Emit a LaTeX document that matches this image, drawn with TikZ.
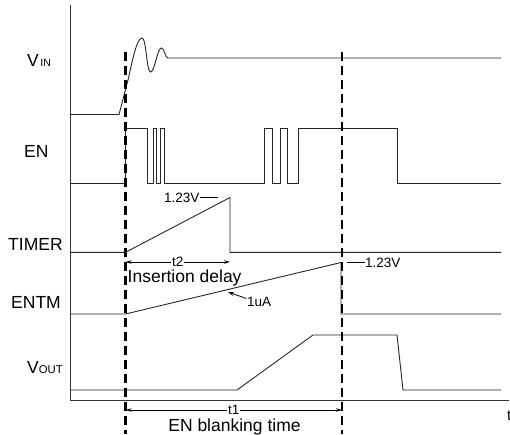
\documentclass[tikz,border=0pt]{standalone}
\usepackage{fontspec}
\setmainfont{Liberation Sans}
\usetikzlibrary{arrows.meta}
\begin{document}
\begin{tikzpicture}[x=1pt,y=-1pt,
  wave/.style={line width=0.9pt, black!85, line join=miter},
  axisline/.style={line width=1pt, black!80},
  marker/.style={line width=2.2pt, black, dash pattern=on 9pt off 5pt},
  biglbl/.style={font=\fontsize{17.5}{20}\selectfont, inner sep=0pt, anchor=base west},
  midlbl/.style={font=\fontsize{17.5}{20}\selectfont, inner sep=0pt},
  smalllbl/.style={font=\fontsize{13.5}{15}\selectfont, inner sep=0pt},
  dimline/.style={line width=0.8pt, {Stealth[length=6pt,width=3.5pt]}-{Stealth[length=6pt,width=3.5pt]}},
]
\useasboundingbox (0,0) rectangle (510,434);

% axes
\coordinate (otop) at (70.3,5);
\coordinate (orig) at (70.3,400.3);
\coordinate (tend) at (509,400.3);
\draw[axisline] (otop) -- (orig) -- (tend);
\node[font=\fontsize{15}{16}\selectfont, inner sep=0pt, anchor=base west] (tlab) at (507,420) {t};

% signal labels
\node[biglbl] (vin) at (27,66) {V\hspace{1.5pt}\fontsize{10.5}{12}\selectfont IN};
\node[biglbl] (en) at (24,157) {EN};
\node[biglbl] (timer) at (8,250) {TIMER};
\node[biglbl] (entm) at (11,308) {ENTM};
\node[biglbl] (vout) at (27,373) {V\fontsize{11.3}{12}\selectfont OUT};

% VIN
\draw[wave] (70.3,114.5) -- (119,114.5) -- (128,80)
  .. controls (133,58) and (137,38) .. (142,38)
  .. controls (146.5,38) and (146.5,72) .. (150.5,72)
  .. controls (155,72) and (157,48) .. (161.5,48)
  .. controls (164.5,48) and (165,58) .. (168,58) -- (501,58);

% EN
\draw[wave] (70.3,183.3) -- (125.5,183.3) -- (125.5,128.7) -- (147,128.7) -- (147,183.3)
  -- (153.5,183.3) -- (153.5,128.7) -- (156.5,128.7) -- (156.5,183.3)
  -- (160.5,183.3) -- (160.5,128.7) -- (164,128.7) -- (164,183.3)
  -- (264.5,183.3) -- (264.5,128.7) -- (272,128.7) -- (272,183.3)
  -- (280,183.3) -- (280,128.7) -- (287,128.7) -- (287,183.3)
  -- (298.5,183.3) -- (298.5,128.7) -- (397,128.7) -- (397,183.3) -- (501,183.3);

% TIMER
\coordinate (timtop) at (230,197.5);
\draw[wave] (70.3,252.3) -- (125.5,252.3) -- (timtop) -- (230,252.3) -- (501,252.3);
\node[smalllbl, anchor=base east] (v1) at (199.5,202.5) {1.23V};
\coordinate (v1end) at (218,197.5);
\draw[line width=0.8pt] (v1.base east |- v1end) -- (v1end);

% ENTM
\draw[wave] (70.3,314) -- (125.5,314) -- (341,262.5) -- (341,314) -- (501,314);
\coordinate (v2start) at (347,262.5);
\node[smalllbl, anchor=base west] (v2) at (365,267.5) {1.23V};
\draw[line width=0.8pt] (v2start) -- (v2.base west |- v2start);

% 1uA
\node[smalllbl, anchor=base west] (ua) at (247,306) {1uA};
\coordinate (uatail) at (246.5,298.5);
\coordinate (uatip) at (228,292);
\draw[line width=0.8pt, -{Stealth[length=6pt,width=4pt]}] (uatail) -- (uatip);

% VOUT
\draw[wave] (70.3,390) -- (237,390) -- (313,335) -- (397,335) -- (403,390) -- (501,390);

% t2 dimension
\coordinate (t2a) at (125.5,262);
\coordinate (t2b) at (230,262);
\draw[dimline] (t2a) -- node[smalllbl, fill=white, inner xsep=1pt, inner ysep=0pt] (t2) {t2} (t2b);
\node[midlbl, anchor=base west] (ins) at (127.5,282) {Insertion delay};

% t1 dimension
\coordinate (t1a) at (125.5,410);
\coordinate (t1b) at (342,410);
\draw[dimline] (t1a) -- node[smalllbl, fill=white, inner xsep=1pt, inner ysep=0pt] (t1) {t1} (t1b);
\node[midlbl, anchor=base] (blank) at (234.5,431) {EN blanking time};

% dashed markers
\coordinate (m1top) at (125.5,52);
\coordinate (m1bot) at (125.5,434);
\coordinate (m2top) at (342,52);
\coordinate (m2bot) at (342,434);
\draw[marker] (m1top) -- (m1bot);
\draw[marker] (m2top) -- (m2bot);
\end{tikzpicture}
\end{document}
